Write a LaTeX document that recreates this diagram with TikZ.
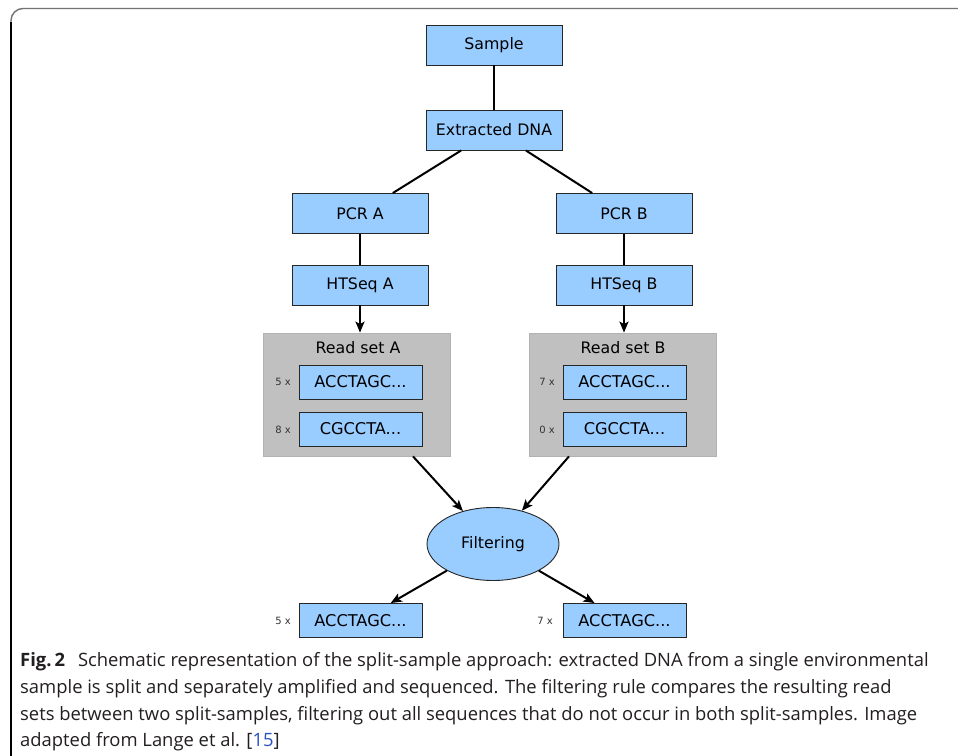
\documentclass[tikz,border=0pt]{standalone}
\usepackage{fontspec}
\setmainfont{DejaVu Sans}
\newfontfamily\capfont{Open Sans}
\newfontfamily\capfontb{Open Sans Bold}
\usetikzlibrary{arrows.meta,shapes.geometric}
\definecolor{boxblue}{HTML}{99CCFF}
\definecolor{setgray}{HTML}{C0C0C0}
\definecolor{captext}{HTML}{231F20}
\definecolor{linkblue}{HTML}{2B52C4}
\tikzset{
  stepbox/.style={draw=black!85, line width=0.9pt, fill=boxblue, inner sep=0pt,
    minimum width=136pt, minimum height=40pt, font=\fontsize{15.8}{18}\selectfont},
  seqbox/.style={draw=black!85, line width=0.9pt, fill=boxblue, inner sep=0pt,
    minimum width=123pt, minimum height=34pt, font=\fontsize{16.2}{18}\selectfont},
  setbox/.style={draw=black!30, line width=0.8pt, fill=setgray, inner sep=0pt,
    minimum width=187pt, minimum height=123pt},
  countlbl/.style={font=\fontsize{10}{12}\selectfont, text=black!80},
  link/.style={line width=2pt, black},
  arr/.style={line width=2pt, black, -{Stealth[length=11pt,width=9pt,inset=2.5pt]}},
  capline/.style={anchor=base west, inner sep=0pt, text=captext, font=\capfont\fontsize{18.4}{20}\selectfont},
}
\begin{document}
\begin{tikzpicture}[x=1pt,y=-1pt]
\useasboundingbox (0,0) rectangle (958,755);
\fill[white] (0,0) rectangle (958,755);
% frame
\draw[black!55, line width=1.4pt, rounded corners=12pt] (962,8.5) -- (11,8.5) -- (11,40);
\draw[black, line width=1.2pt] (11,22) -- (11,757);

\node[stepbox] (sample) at (494,45) {Sample};
\node[stepbox] (dna) at (494,130) {Extracted DNA};
\node[stepbox] (pcra) at (360,213.5) {PCR A};
\node[stepbox] (pcrb) at (624,213.5) {PCR B};
\node[stepbox] (hta) at (360,285) {HTSeq A};
\node[stepbox] (htb) at (624,285) {HTSeq B};

\node[setbox] (rsa) at (356.5,394.5) {};
\node[setbox] (rsb) at (622.5,394.5) {};
\node[font=\fontsize{15.8}{18}\selectfont] (rsat) at (358,348) {Read set A};
\node[font=\fontsize{15.8}{18}\selectfont] (rsbt) at (623,348) {Read set B};

\node[seqbox] (a1) at (360.5,382) {ACCTAGC...};
\node[seqbox] (a2) at (360.5,429) {CGCCTA...};
\node[seqbox] (b1) at (624.5,382) {ACCTAGC...};
\node[seqbox] (b2) at (624.5,429) {CGCCTA...};
\node[countlbl] (ca1) at (283,382) {5 x};
\node[countlbl] (ca2) at (283,430) {8 x};
\node[countlbl] (cb1) at (547,382) {7 x};
\node[countlbl] (cb2) at (547,430) {0 x};

\node[ellipse, draw=black!85, line width=0.9pt, fill=boxblue, inner sep=0pt,
  minimum width=132pt, minimum height=73pt, font=\fontsize{15.8}{18}\selectfont] (filt) at (493,544) {Filtering};

\node[seqbox] (oa) at (360.5,620.5) {ACCTAGC...};
\node[seqbox] (ob) at (624.5,620.5) {ACCTAGC...};
\node[countlbl] (coa) at (283,621) {5 x};
\node[countlbl] (cob) at (545,621) {7 x};

\draw[link] (sample) -- (dna);
\draw[link] (dna) -- (pcra);
\draw[link] (dna) -- (pcrb);
\draw[link] (pcra) -- (hta);
\draw[link] (pcrb) -- (htb);
\draw[arr] (hta) -- (hta|-rsa.north);
\draw[arr] (htb) -- (htb|-rsb.north);
\draw[arr] (rsa) -- (filt);
\draw[arr] (rsb) -- (filt);
\draw[arr] (filt) -- (oa);
\draw[arr] (filt) -- (ob);

% caption
\node[capline] (c1) at (20,666) {{\capfontb Fig.\,2}\hspace{0.7em}Schematic representation of the split-sample approach: extracted DNA from a single environmental};
\node[capline] (c2) at (20,693) {sample is split and separately amplified and sequenced. The filtering rule compares the resulting read};
\node[capline] (c3) at (20,720) {sets between two split-samples, filtering out all sequences that do not occur in both split-samples. Image};
\node[capline] (c4) at (20,746.5) {adapted from Lange et al. [{\color{linkblue}15}]};
\end{tikzpicture}
\end{document}
